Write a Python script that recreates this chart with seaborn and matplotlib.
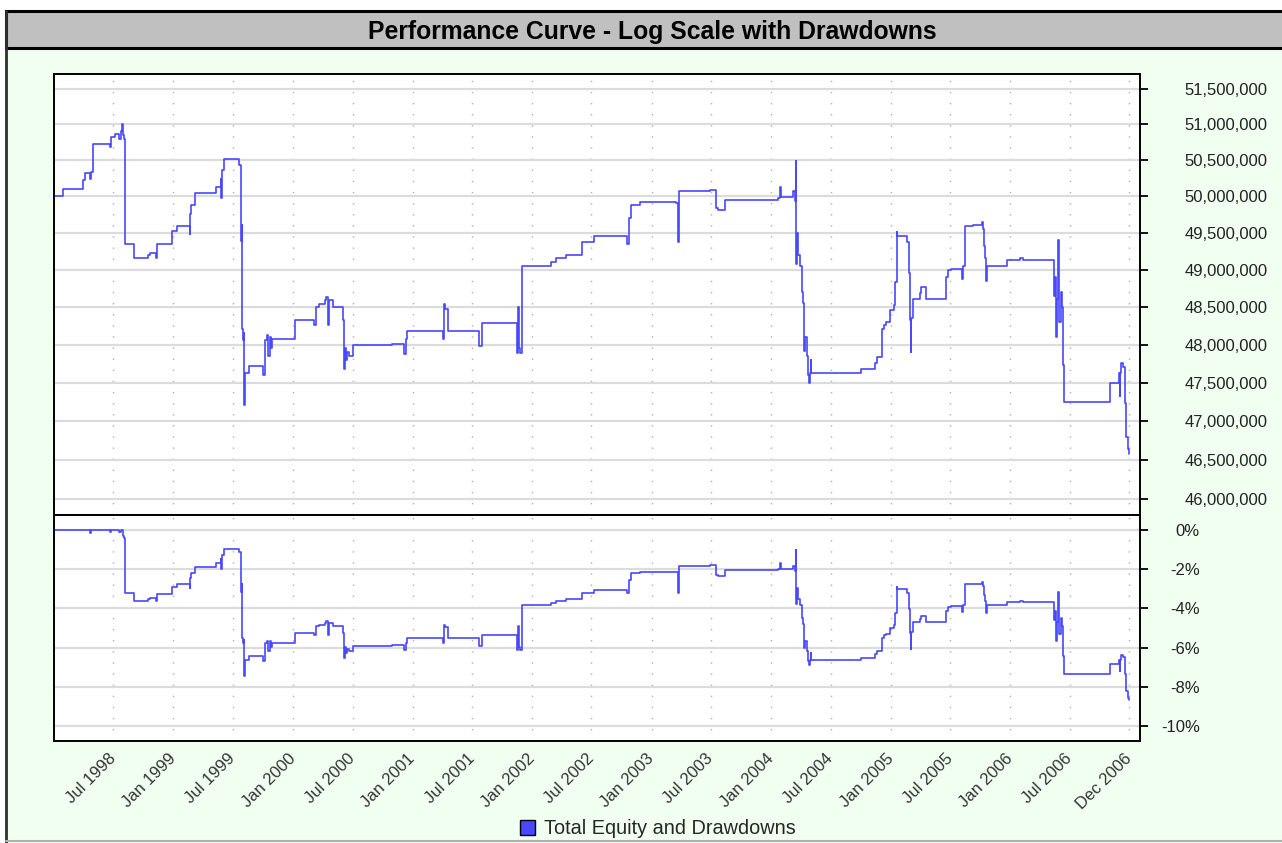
import pandas as pd
import seaborn as sns
import matplotlib.pyplot as plt
import matplotlib.ticker as mticker
from matplotlib.patches import Rectangle, Patch
from matplotlib.lines import Line2D

# equity curve (values in millions)
dates = [
    "1998-01-01", "1998-01-28", "1998-04-01", "1998-04-05", "1998-04-20", "1998-04-24", "1998-05-01", "1998-06-22",
    "1998-06-25", "1998-07-05", "1998-07-20", "1998-07-25", "1998-07-29", "1998-07-31", "1998-08-03", "1998-08-05",
    "1998-09-02", "1998-10-16", "1998-10-21", "1998-11-08", "1998-11-12", "1998-12-28", "1999-01-13", "1999-02-19",
    "1999-02-22", "1999-02-25", "1999-03-07", "1999-05-12", "1999-05-25", "1999-05-27", "1999-05-30", "1999-06-05",
    "1999-07-20", "1999-07-26", "1999-07-27", "1999-07-28", "1999-07-30", "1999-08-01", "1999-08-03", "1999-08-05",
    "1999-08-07", "1999-08-09", "1999-08-20", "1999-10-03", "1999-10-07", "1999-10-14", "1999-10-18", "1999-10-22",
    "1999-10-25", "1999-10-29", "2000-01-06", "2000-03-06", "2000-03-11", "2000-03-21", "2000-04-07", "2000-04-10",
    "2000-04-17", "2000-04-19", "2000-05-03", "2000-06-02", "2000-06-05", "2000-06-07", "2000-06-10", "2000-06-14",
    "2000-06-20", "2000-07-02", "2000-10-29", "2000-12-06", "2000-12-11", "2000-12-14", "2001-04-03", "2001-04-07",
    "2001-04-10", "2001-04-20", "2001-07-24", "2001-07-31", "2001-11-15", "2001-11-18", "2001-11-21", "2001-11-25",
    "2001-11-30", "2002-02-27", "2002-03-14", "2002-04-13", "2002-06-03", "2002-07-10", "2002-10-19", "2002-10-23",
    "2002-10-29", "2002-11-25", "2003-03-17", "2003-03-23", "2003-03-25", "2003-03-27", "2003-06-27", "2003-07-17",
    "2003-07-24", "2003-08-14", "2004-01-21", "2004-01-29", "2004-01-31", "2004-03-09", "2004-03-14", "2004-03-16",
    "2004-03-17", "2004-03-18", "2004-03-21", "2004-03-24", "2004-03-28", "2004-04-03", "2004-04-06", "2004-04-10",
    "2004-04-15", "2004-04-20", "2004-04-23", "2004-04-26", "2004-04-28", "2004-05-01", "2004-05-03", "2004-10-01",
    "2004-11-13", "2004-11-18", "2004-12-04", "2004-12-10", "2004-12-18", "2004-12-30", "2005-01-09", "2005-01-14",
    "2005-01-19", "2005-01-21", "2005-02-19", "2005-02-24", "2005-02-27", "2005-03-02", "2005-03-04", "2005-03-08",
    "2005-03-30", "2005-04-03", "2005-04-19", "2005-06-19", "2005-06-23", "2005-07-04", "2005-08-06", "2005-08-10",
    "2005-08-15", "2005-09-09", "2005-10-06", "2005-10-09", "2005-10-13", "2005-10-16", "2005-10-19", "2005-10-21",
    "2005-12-21", "2006-01-31", "2006-02-10", "2006-05-13", "2006-05-15", "2006-05-18", "2006-05-20", "2006-05-23",
    "2006-05-26", "2006-05-29", "2006-05-31", "2006-06-04", "2006-06-07", "2006-06-11", "2006-06-15", "2006-11-02",
    "2006-11-28", "2006-12-01", "2006-12-03", "2006-12-05", "2006-12-11", "2006-12-16", "2006-12-21", "2006-12-26", "2006-12-29",
]
equity_m = [
    50.00, 50.10, 50.23, 50.32, 50.24, 50.34, 50.72, 50.68,
    50.82, 50.86, 50.80, 50.90, 51.00, 50.85, 50.80, 49.35,
    49.155, 49.20, 49.22, 49.16, 49.34, 49.52, 49.59, 49.48,
    49.75, 49.88, 50.04, 50.13, 50.24, 49.98, 50.36, 50.51,
    50.43, 49.66, 49.39, 49.60, 48.20, 48.06, 48.15, 47.21,
    47.50, 47.62, 47.72, 47.60, 48.06, 48.12, 47.85, 48.10,
    47.95, 48.07, 48.33, 48.26, 48.50, 48.54, 48.59, 48.63,
    48.26, 48.59, 48.50, 48.33, 47.68, 47.95, 47.80, 47.90,
    47.85, 47.99, 48.01, 47.87, 48.07, 48.18, 48.07, 48.54,
    48.47, 48.18, 47.98, 48.28, 47.89, 48.50, 47.95, 47.89,
    49.05, 49.10, 49.15, 49.20, 49.37, 49.45, 49.35, 49.70,
    49.88, 49.92, 49.90, 49.37, 49.90, 50.07, 50.09, 49.84,
    49.81, 49.95, 49.98, 50.13, 49.99, 50.07, 49.93, 50.49,
    50.00, 49.08, 49.50, 49.20, 49.05, 48.70, 48.55, 47.92,
    48.10, 47.85, 47.60, 47.49, 47.62, 47.80, 47.62, 47.68,
    47.76, 47.84, 48.20, 48.26, 48.30, 48.46, 48.52, 48.83,
    49.51, 49.46, 49.37, 48.95, 48.33, 47.90, 48.35, 48.61,
    48.68, 48.77, 48.61, 48.90, 48.99, 49.01, 48.87, 49.05,
    49.59, 49.60, 49.64, 49.55, 49.32, 49.15, 48.84, 49.05,
    49.13, 49.16, 49.13, 49.10, 48.65, 48.90, 48.10, 48.60,
    49.40, 48.80, 48.30, 48.70, 48.50, 47.73, 47.25, 47.50,
    47.62, 47.33, 47.62, 47.75, 47.70, 47.24, 46.80, 46.64, 46.58,
]

tick_dates = ["1998-07-01", "1999-01-01", "1999-07-01", "2000-01-01", "2000-07-01", "2001-01-01",
              "2001-07-01", "2002-01-01", "2002-07-01", "2003-01-01", "2003-07-01", "2004-01-01",
              "2004-07-01", "2005-01-01", "2005-07-01", "2006-01-01", "2006-07-01", "2006-12-29"]
tick_labels = ["Jul 1998", "Jan 1999", "Jul 1999", "Jan 2000", "Jul 2000", "Jan 2001",
               "Jul 2001", "Jan 2002", "Jul 2002", "Jan 2003", "Jul 2003", "Jan 2004",
               "Jul 2004", "Jan 2005", "Jul 2005", "Jan 2006", "Jul 2006", "Dec 2006"]
equity_ticks = [46.0, 46.5, 47.0, 47.5, 48.0, 48.5, 49.0, 49.5, 50.0, 50.5, 51.0, 51.5]
dd_ticks = [0, -2, -4, -6, -8, -10]

assert len(dates) == len(equity_m)

sns.set_theme(style="white")
plt.rcParams["font.family"] = ["Liberation Sans", "DejaVu Sans"]

df = pd.DataFrame({"Date": pd.to_datetime(dates), "Equity": [v * 1e6 for v in equity_m]})
df["Drawdown"] = (df["Equity"] / df["Equity"].cummax() - 1) * 100

W, H = 1282, 843
BLUE = "#4848ff"
BG = "#f0fff0"


def fx(px):
    return px / W


def fy(py):
    return 1 - py / H


fig = plt.figure(figsize=(W / 100, H / 100), dpi=100, facecolor=BG)

# frame pieces: white margin, title bar, borders
fig.add_artist(Rectangle((0, fy(10)), 1, 10 / H, transform=fig.transFigure, facecolor="white", edgecolor="none"))
fig.add_artist(Rectangle((0, 0), fx(5), 1, transform=fig.transFigure, facecolor="white", edgecolor="none"))
fig.add_artist(Rectangle((fx(6), fy(48)), fx(1290 - 6), 37 / H, transform=fig.transFigure,
                         facecolor="#c0c0c0", edgecolor="black", lw=2.2))
fig.add_artist(Line2D([fx(6), fx(6)], [fy(11), 0], transform=fig.transFigure, color="#303030", lw=2))
fig.add_artist(Line2D([fx(6), 1], [fy(841), fy(841)], transform=fig.transFigure, color="#b0b0b0", lw=1.5))
fig.text(fx(652), fy(32), "Performance Curve - Log Scale with Drawdowns", ha="center", va="center",
         fontsize=17.8, fontweight="bold", color="black")

ax_eq = fig.add_axes([fx(54), fy(515), fx(1140 - 54), (515 - 74) / H])
ax_dd = fig.add_axes([fx(54), fy(741), fx(1140 - 54), (741 - 515) / H], sharex=ax_eq)

sns.lineplot(data=df, x="Date", y="Equity", ax=ax_eq, color=BLUE, linewidth=1.2,
             drawstyle="steps-post", legend=False)
sns.lineplot(data=df, x="Date", y="Drawdown", ax=ax_dd, color=BLUE, linewidth=1.2,
             drawstyle="steps-post", legend=False)

ax_eq.set_yscale("log")
ax_eq.set_ylim(45.80e6, 51.71e6)
ax_eq.yaxis.set_major_locator(mticker.FixedLocator([t * 1e6 for t in equity_ticks]))
ax_eq.yaxis.set_minor_locator(mticker.NullLocator())
ax_eq.yaxis.set_major_formatter(mticker.FuncFormatter(lambda v, p: f"{v:,.0f}"))

ax_dd.set_ylim(-10.77, 0.77)
ax_dd.yaxis.set_major_locator(mticker.FixedLocator(dd_ticks))
ax_dd.yaxis.set_major_formatter(mticker.FuncFormatter(lambda v, p: f"{int(round(v))}%"))

ax_dd.set_xlim(pd.Timestamp("1998-01-01"), pd.Timestamp("2007-02-01"))
ax_dd.set_xticks(pd.to_datetime(tick_dates))
ax_dd.set_xticklabels(tick_labels)

for ax, pad in [(ax_eq, 86), (ax_dd, 37)]:
    ax.set_facecolor("white")
    ax.set_xlabel("")
    ax.set_ylabel("")
    ax.yaxis.tick_right()
    ax.tick_params(axis="y", direction="out", length=6, width=1.3, color="black",
                   labelsize=12, labelcolor="#222222", pad=pad)
    plt.setp(ax.yaxis.get_ticklabels(), ha="right")
    ax.grid(True, axis="y", color="#dcdcdc", lw=1.6, ls="-")
    ax.grid(True, axis="x", color="#b0b0b0", lw=1.0, ls=(0, (1, 7)))
    for s in ax.spines.values():
        s.set_color("black")
        s.set_linewidth(1.4)

ax_eq.tick_params(axis="x", length=0, labelbottom=False)
ax_dd.tick_params(axis="x", direction="out", length=6, width=1.3, color="black",
                  labelsize=12, labelcolor="#333333", pad=5)
plt.setp(ax_dd.get_xticklabels(), rotation=45, ha="right", va="center", rotation_mode="anchor")

fig.legend(handles=[Patch(facecolor=BLUE, edgecolor="black", lw=1)],
           labels=["Total Equity and Drawdowns"], loc="center",
           bbox_to_anchor=(fx(658), fy(829)), frameon=False, fontsize=14.3,
           handlelength=0.75, handleheight=0.75, handletextpad=0.45)

fig.savefig("out.png", dpi=100, facecolor=fig.get_facecolor())
